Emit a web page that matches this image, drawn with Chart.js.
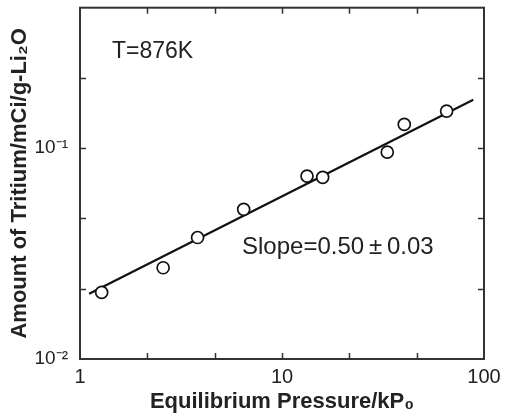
<!DOCTYPE html>
<html>
<head>
<meta charset="utf-8">
<script src="https://cdn.jsdelivr.net/npm/chart.js@4/dist/chart.umd.min.js"></script>
<style>
html,body{margin:0;padding:0;background:#fff;}
#wrap{width:511px;height:420px;position:relative;}
</style>
</head>
<body>
<div id="wrap"><canvas id="c" width="511" height="420"></canvas></div>
<script>
// Measured data (Equilibrium pressure kP0 vs amount of tritium mCi/g-Li2O)
const pressure = [1.28, 2.58, 3.82, 6.46, 13.3, 15.9, 33.2, 40.3, 65.3];
const tritium  = [0.0207, 0.0271, 0.0377, 0.0513, 0.0738, 0.0728, 0.0958, 0.1297, 0.150];
// Fitted line end points
const fitX = [1.11, 88.5];
const fitY = [0.0204, 0.170];
// Tick positions (1/3 decade) and labels
const xTicks = [1, 2.154, 4.642, 10, 21.54, 46.42, 100];
const yTicks = [0.01, 0.02154, 0.04642, 0.1, 0.2154, 0.4642];
const xTickLabels = {1: '1', 10: '10', 100: '100'};
const yTickLabels = {0.01: '10\u207B\u00B2', 0.1: '10\u207B\u00B9'};
const annotations = [
  {text: 'T=876K', x: 1.44, y: 0.268, size: 23},
  {text: 'Slope=0.50\u2009\u00B1\u20090.03', x: 6.34, y: 0.0316, size: 24}
];

const FONT = "'Liberation Sans', Arial, sans-serif";
const INK = '#222';

const frame = {
  id: 'frame',
  afterDraw(chart) {
    const {ctx, chartArea: a, scales} = chart;
    ctx.save();
    ctx.strokeStyle = '#333';
    ctx.lineWidth = 2;
    ctx.strokeRect(a.left, a.top, a.right - a.left, a.bottom - a.top);
    ctx.lineWidth = 1.5;
    const L = 6;
    ctx.beginPath();
    xTicks.forEach(v => {
      const px = Math.round(scales.x.getPixelForValue(v)) + 0.5;
      if (px <= a.left + 2 || px >= a.right - 2) return;
      ctx.moveTo(px, a.bottom); ctx.lineTo(px, a.bottom - L);
      ctx.moveTo(px, a.top); ctx.lineTo(px, a.top + L);
    });
    yTicks.forEach(v => {
      const py = Math.round(scales.y.getPixelForValue(v)) + 0.5;
      if (py <= a.top + 2 || py >= a.bottom - 2) return;
      ctx.moveTo(a.left, py); ctx.lineTo(a.left + L, py);
      ctx.moveTo(a.right, py); ctx.lineTo(a.right - L, py);
    });
    ctx.stroke();
    ctx.fillStyle = INK;
    ctx.textBaseline = 'alphabetic';
    ctx.textAlign = 'left';
    annotations.forEach(t => {
      ctx.font = t.size + 'px ' + FONT;
      ctx.fillText(t.text, scales.x.getPixelForValue(t.x), scales.y.getPixelForValue(t.y));
    });
    ctx.restore();
  }
};

new Chart(document.getElementById('c'), {
  type: 'scatter',
  data: {
    datasets: [
      {
        label: 'fit',
        data: fitX.map((x, i) => ({x, y: fitY[i]})),
        showLine: true,
        borderColor: '#111',
        borderWidth: 2.2,
        pointRadius: 0,
        order: 2
      },
      {
        label: 'data',
        data: pressure.map((x, i) => ({x, y: tritium[i]})),
        pointStyle: 'circle',
        pointRadius: 6,
        pointBorderWidth: 1.7,
        pointBackgroundColor: '#fff',
        pointBorderColor: '#111',
        order: 1
      }
    ]
  },
  options: {
    responsive: false,
    animation: false,
    layout: {padding: {top: 7, right: 27, left: 0, bottom: 0}},
    plugins: {legend: {display: false}, tooltip: {enabled: false}},
    scales: {
      x: {
        type: 'logarithmic', position: 'bottom', min: 1, max: 100,
        grid: {display: false, drawTicks: false},
        border: {display: false},
        afterBuildTicks: s => { s.ticks = xTicks.map(v => ({value: v})); },
        afterFit: s => { s.height = 61; s.paddingLeft = 0; s.paddingRight = 0; },
        ticks: {
          autoSkip: false, maxRotation: 0, padding: 6, color: INK,
          font: {family: FONT, size: 20},
          callback: v => xTickLabels[v] || ''
        },
        title: {
          display: true, text: 'Equilibrium Pressure/kP\u2080', color: INK,
          font: {family: FONT, size: 22, weight: 'bold'},
          padding: {top: 0, bottom: 5}
        }
      },
      y: {
        type: 'logarithmic', position: 'left', min: 0.01, max: 0.4642,
        grid: {display: false, drawTicks: false},
        border: {display: false},
        afterBuildTicks: s => { s.ticks = yTicks.map(v => ({value: v})); },
        afterFit: s => { s.width = 80; s.paddingTop = 0; s.paddingBottom = 0; },
        ticks: {
          autoSkip: false, padding: 12, color: INK,
          font: {family: FONT, size: 19},
          callback: v => yTickLabels[v] || ''
        },
        title: {
          display: true, text: 'Amount of Tritium/mCi/g-Li\u2082O', color: INK,
          font: {family: FONT, size: 22, weight: 'bold'},
          padding: {top: 7, bottom: 0}
        }
      }
    }
  },
  plugins: [frame]
});
</script>
</body>
</html>
